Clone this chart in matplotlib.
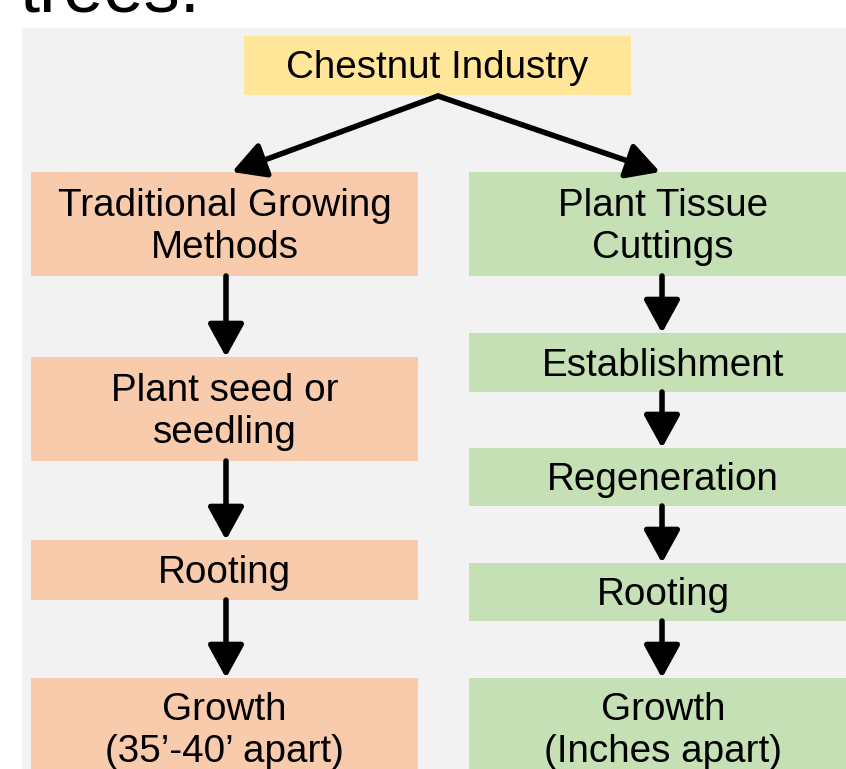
import matplotlib
matplotlib.use("Agg")
import matplotlib.pyplot as plt
from matplotlib.patches import Rectangle, FancyArrowPatch

plt.rcParams['font.family'] = ['Liberation Sans', 'DejaVu Sans']

# node labels
top_label = "Chestnut Industry"
left_labels = ["Traditional Growing\nMethods", "Plant seed or\nseedling", "Rooting",
               "Growth\n(35\u2019-40\u2019 apart)"]
right_labels = ["Plant Tissue\nCuttings", "Establishment", "Regeneration", "Rooting",
                "Growth\n(Inches apart)"]

# colours
bg_col = "#F2F2F2"
top_col = "#FFE699"
left_col = "#F8CBAD"
right_col = "#C5E0B4"

# box geometry in pixels: (x0, y0, x1, y1)
top_box = (244, 36, 631, 95)
left_boxes = [(31, 172, 418, 276), (31, 357, 418, 461), (31, 540, 418, 600), (31, 678, 418, 778)]
right_boxes = [(469, 172, 860, 276), (469, 333, 860, 392), (469, 448, 860, 506),
               (469, 563, 860, 621), (469, 678, 860, 778)]

W, H = 846, 769
fig = plt.figure(figsize=(W / 100, H / 100), dpi=100)
ax = fig.add_axes([0, 0, 1, 1])
ax.set_xlim(0, W)
ax.set_ylim(H, 0)
ax.axis("off")

ax.add_patch(Rectangle((22, 28), W, H, facecolor=bg_col, edgecolor="none"))
ax.text(20, 12, "trees.", fontsize=52, va="baseline", ha="left", color="black")

FS = 27.8


def box(b, col, label, tx=None):
    x0, y0, x1, y1 = b
    ax.add_patch(Rectangle((x0, y0), x1 - x0, y1 - y0, facecolor=col, edgecolor="none"))
    cx = (x0 + x1) / 2 if tx is None else tx
    ax.text(cx, (y0 + y1) / 2 + 3, label, fontsize=FS, ha="center", va="center",
            linespacing=1.2, color="black")


def arrow(p, q):
    ax.add_patch(FancyArrowPatch(p, q, arrowstyle="-|>,head_length=1.0,head_width=0.55",
                                 mutation_scale=20, lw=4.0, color="black",
                                 shrinkA=0, shrinkB=0))


box(top_box, top_col, top_label)
for b, lab in zip(left_boxes, left_labels):
    box(b, left_col, lab)
for b, lab in zip(right_boxes, right_labels):
    box(b, right_col, lab, tx=663)

arrow((438, 96), (232, 172))
arrow((438, 96), (660, 172))
for a, b in zip(left_boxes[:-1], left_boxes[1:]):
    arrow((226, a[3]), (226, b[1]))
for a, b in zip(right_boxes[:-1], right_boxes[1:]):
    arrow((662, a[3]), (662, b[1]))

fig.savefig("out.png", dpi=100)
